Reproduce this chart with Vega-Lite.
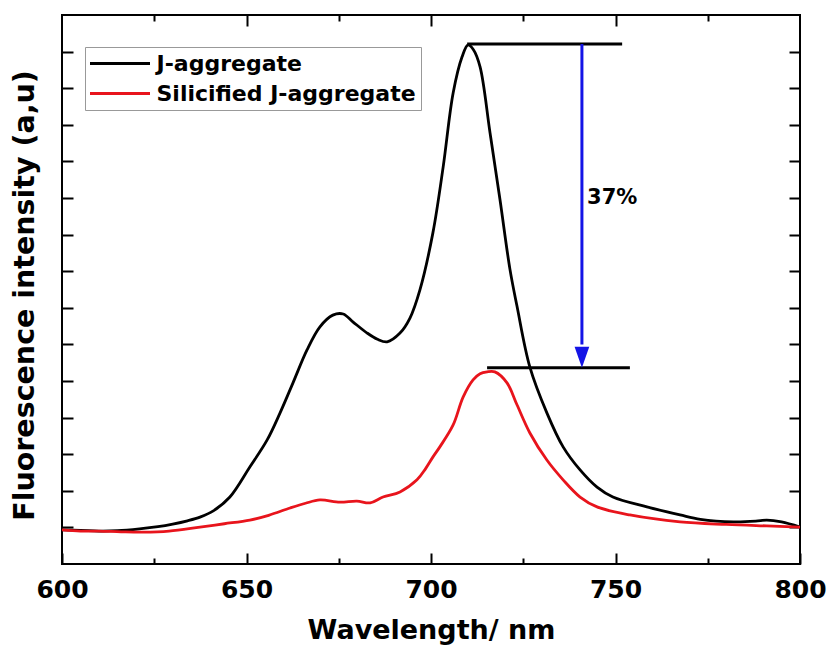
{
  "$schema": "https://vega.github.io/schema/vega-lite/v6.json",
  "width": 738,
  "height": 549,
  "autosize": {"type": "none"},
  "padding": {"left": 62, "top": 15, "right": 29, "bottom": 85},
  "background": "white",
  "config": {
    "font": "DejaVu Sans",
    "view": {"stroke": "black", "strokeWidth": 2},
    "axis": {
      "grid": false,
      "domain": false,
      "tickColor": "black",
      "tickWidth": 2,
      "labelFont": "DejaVu Sans",
      "labelFontWeight": "bold",
      "labelColor": "black",
      "titleFont": "DejaVu Sans",
      "titleFontWeight": "bold",
      "titleColor": "black"
    }
  },
  "datasets": {
    "curves": [
      {"wavelength": 600, "intensity": 0.93, "series": "J-aggregate"},
      {"wavelength": 605, "intensity": 0.92, "series": "J-aggregate"},
      {"wavelength": 610, "intensity": 0.90, "series": "J-aggregate"},
      {"wavelength": 615, "intensity": 0.91, "series": "J-aggregate"},
      {"wavelength": 621, "intensity": 0.96, "series": "J-aggregate"},
      {"wavelength": 626, "intensity": 1.02, "series": "J-aggregate"},
      {"wavelength": 630, "intensity": 1.09, "series": "J-aggregate"},
      {"wavelength": 634, "intensity": 1.18, "series": "J-aggregate"},
      {"wavelength": 637.4, "intensity": 1.28, "series": "J-aggregate"},
      {"wavelength": 641, "intensity": 1.45, "series": "J-aggregate"},
      {"wavelength": 645.5, "intensity": 1.83, "series": "J-aggregate"},
      {"wavelength": 650.9, "intensity": 2.65, "series": "J-aggregate"},
      {"wavelength": 655.6, "intensity": 3.39, "series": "J-aggregate"},
      {"wavelength": 659.1, "intensity": 4.13, "series": "J-aggregate"},
      {"wavelength": 662.6, "intensity": 4.95, "series": "J-aggregate"},
      {"wavelength": 666.4, "intensity": 5.85, "series": "J-aggregate"},
      {"wavelength": 669.9, "intensity": 6.48, "series": "J-aggregate"},
      {"wavelength": 673.4, "intensity": 6.80, "series": "J-aggregate"},
      {"wavelength": 676.2, "intensity": 6.83, "series": "J-aggregate"},
      {"wavelength": 678.9, "intensity": 6.61, "series": "J-aggregate"},
      {"wavelength": 682.7, "intensity": 6.31, "series": "J-aggregate"},
      {"wavelength": 685.5, "intensity": 6.14, "series": "J-aggregate"},
      {"wavelength": 688.1, "intensity": 6.07, "series": "J-aggregate"},
      {"wavelength": 691.6, "intensity": 6.31, "series": "J-aggregate"},
      {"wavelength": 694.3, "intensity": 6.72, "series": "J-aggregate"},
      {"wavelength": 697, "intensity": 7.49, "series": "J-aggregate"},
      {"wavelength": 700.5, "intensity": 9.04, "series": "J-aggregate"},
      {"wavelength": 703.3, "intensity": 10.85, "series": "J-aggregate"},
      {"wavelength": 706, "intensity": 12.87, "series": "J-aggregate"},
      {"wavelength": 708.4, "intensity": 13.85, "series": "J-aggregate"},
      {"wavelength": 710, "intensity": 14.18, "series": "J-aggregate"},
      {"wavelength": 711.5, "intensity": 14.05, "series": "J-aggregate"},
      {"wavelength": 713.3, "intensity": 13.58, "series": "J-aggregate"},
      {"wavelength": 716, "intensity": 11.78, "series": "J-aggregate"},
      {"wavelength": 718.7, "intensity": 9.95, "series": "J-aggregate"},
      {"wavelength": 721.4, "intensity": 8.05, "series": "J-aggregate"},
      {"wavelength": 723.3, "intensity": 7.05, "series": "J-aggregate"},
      {"wavelength": 726.8, "intensity": 5.38, "series": "J-aggregate"},
      {"wavelength": 731.4, "intensity": 4.13, "series": "J-aggregate"},
      {"wavelength": 735.8, "intensity": 3.20, "series": "J-aggregate"},
      {"wavelength": 740.4, "intensity": 2.57, "series": "J-aggregate"},
      {"wavelength": 745, "intensity": 2.10, "series": "J-aggregate"},
      {"wavelength": 749.3, "intensity": 1.83, "series": "J-aggregate"},
      {"wavelength": 758.5, "intensity": 1.56, "series": "J-aggregate"},
      {"wavelength": 767.5, "intensity": 1.34, "series": "J-aggregate"},
      {"wavelength": 773, "intensity": 1.22, "series": "J-aggregate"},
      {"wavelength": 782, "intensity": 1.15, "series": "J-aggregate"},
      {"wavelength": 788, "intensity": 1.17, "series": "J-aggregate"},
      {"wavelength": 791, "intensity": 1.20, "series": "J-aggregate"},
      {"wavelength": 795, "intensity": 1.15, "series": "J-aggregate"},
      {"wavelength": 800, "intensity": 1.01, "series": "J-aggregate"},
      {"wavelength": 600, "intensity": 0.93, "series": "Silicified J-aggregate"},
      {"wavelength": 605, "intensity": 0.90, "series": "Silicified J-aggregate"},
      {"wavelength": 610, "intensity": 0.90, "series": "Silicified J-aggregate"},
      {"wavelength": 616, "intensity": 0.88, "series": "Silicified J-aggregate"},
      {"wavelength": 622, "intensity": 0.87, "series": "Silicified J-aggregate"},
      {"wavelength": 629, "intensity": 0.90, "series": "Silicified J-aggregate"},
      {"wavelength": 637.4, "intensity": 1.01, "series": "Silicified J-aggregate"},
      {"wavelength": 644, "intensity": 1.10, "series": "Silicified J-aggregate"},
      {"wavelength": 650.9, "intensity": 1.20, "series": "Silicified J-aggregate"},
      {"wavelength": 656, "intensity": 1.33, "series": "Silicified J-aggregate"},
      {"wavelength": 661.8, "intensity": 1.53, "series": "Silicified J-aggregate"},
      {"wavelength": 666, "intensity": 1.66, "series": "Silicified J-aggregate"},
      {"wavelength": 669.9, "intensity": 1.75, "series": "Silicified J-aggregate"},
      {"wavelength": 675.3, "intensity": 1.69, "series": "Silicified J-aggregate"},
      {"wavelength": 679.9, "intensity": 1.72, "series": "Silicified J-aggregate"},
      {"wavelength": 683.5, "intensity": 1.67, "series": "Silicified J-aggregate"},
      {"wavelength": 687, "intensity": 1.83, "series": "Silicified J-aggregate"},
      {"wavelength": 691.6, "intensity": 1.97, "series": "Silicified J-aggregate"},
      {"wavelength": 696.2, "intensity": 2.30, "series": "Silicified J-aggregate"},
      {"wavelength": 698.5, "intensity": 2.6, "series": "Silicified J-aggregate"},
      {"wavelength": 700.5, "intensity": 2.92, "series": "Silicified J-aggregate"},
      {"wavelength": 702.4, "intensity": 3.20, "series": "Silicified J-aggregate"},
      {"wavelength": 706, "intensity": 3.80, "series": "Silicified J-aggregate"},
      {"wavelength": 708.7, "intensity": 4.56, "series": "Silicified J-aggregate"},
      {"wavelength": 711.4, "intensity": 5.03, "series": "Silicified J-aggregate"},
      {"wavelength": 713.3, "intensity": 5.20, "series": "Silicified J-aggregate"},
      {"wavelength": 715.2, "intensity": 5.25, "series": "Silicified J-aggregate"},
      {"wavelength": 717.3, "intensity": 5.25, "series": "Silicified J-aggregate"},
      {"wavelength": 720.6, "intensity": 4.95, "series": "Silicified J-aggregate"},
      {"wavelength": 723.3, "intensity": 4.35, "series": "Silicified J-aggregate"},
      {"wavelength": 726.8, "intensity": 3.58, "series": "Silicified J-aggregate"},
      {"wavelength": 731.4, "intensity": 2.84, "series": "Silicified J-aggregate"},
      {"wavelength": 735.8, "intensity": 2.30, "series": "Silicified J-aggregate"},
      {"wavelength": 740.4, "intensity": 1.83, "series": "Silicified J-aggregate"},
      {"wavelength": 745, "intensity": 1.56, "series": "Silicified J-aggregate"},
      {"wavelength": 753.9, "intensity": 1.34, "series": "Silicified J-aggregate"},
      {"wavelength": 767.5, "intensity": 1.15, "series": "Silicified J-aggregate"},
      {"wavelength": 780, "intensity": 1.08, "series": "Silicified J-aggregate"},
      {"wavelength": 791, "intensity": 1.04, "series": "Silicified J-aggregate"},
      {"wavelength": 800, "intensity": 1.01, "series": "Silicified J-aggregate"}
    ],
    "levels": [
      {"x": 709.8, "x2": 751.8, "y": 14.21},
      {"x": 715.2, "x2": 753.9, "y": 5.36}
    ],
    "drop": [
      {"x": 740.9, "y": 14.21, "y2": 6.0}
    ],
    "tip": [
      {"x": 740.9, "y": 5.36}
    ],
    "note": [
      {"x": 742.3, "y": 10.0, "label": "37%"}
    ]
  },
  "resolve": {"axis": {"x": "independent", "y": "independent"}},
  "layer": [
    {
      "data": {"name": "curves"},
      "mark": {"type": "line", "strokeWidth": 2.8, "interpolate": "catmull-rom"},
      "encoding": {
        "x": {
          "field": "wavelength", "type": "quantitative",
          "scale": {"domain": [600, 800], "nice": false, "zero": false},
          "axis": {
            "orient": "bottom", "values": [600, 650, 700, 750, 800],
            "tickSize": -11, "labelPadding": 44, "labelBaseline": "alphabetic",
            "labelFontSize": 25, "labelFlush": false, "labelOverlap": false, "labelBound": false,
            "title": "Wavelength/ nm", "titleFontSize": 27, "titleBaseline": "alphabetic",
            "titleY": 74
          }
        },
        "y": {
          "field": "intensity", "type": "quantitative",
          "scale": {"domain": [0, 15], "nice": false, "zero": false},
          "axis": {
            "orient": "left", "values": [1, 2, 3, 4, 5, 6, 7, 8, 9, 10, 11, 12, 13, 14],
            "tickSize": -11, "labels": false,
            "title": "Fluorescence intensity (a,u)", "titleFontSize": 28.5,
            "titleBaseline": "alphabetic", "titleAngle": 270, "titleAlign": "center",
            "titleX": -29, "titleY": 280
          }
        },
        "color": {
          "field": "series", "type": "nominal",
          "scale": {"domain": ["J-aggregate", "Silicified J-aggregate"], "range": ["black", "#e8141c"]},
          "legend": {
            "orient": "none", "legendX": 23, "legendY": 32, "title": null,
            "symbolType": "M-3,0L3,0", "symbolSize": 400, "symbolStrokeWidth": 3,
            "symbolOffset": 18.5, "labelOffset": 25,
            "labelFontSize": 22, "labelFont": "DejaVu Sans", "labelFontWeight": "bold", "labelColor": "black",
            "labelLimit": 400, "rowPadding": 7, "padding": 5,
            "strokeColor": "#999999", "fillColor": "white"
          }
        }
      }
    },
    {
      "data": {"name": "levels"},
      "mark": {"type": "rule", "strokeWidth": 3, "color": "black"},
      "encoding": {
        "x": {
          "field": "x", "type": "quantitative",
          "scale": {"domain": [600, 800], "nice": false, "zero": false},
          "axis": {"orient": "top", "values": [650, 700, 750], "tickSize": -11, "labels": false, "title": null}
        },
        "x2": {"field": "x2"},
        "y": {
          "field": "y", "type": "quantitative",
          "scale": {"domain": [0, 15], "nice": false, "zero": false},
          "axis": {"orient": "right", "values": [1, 2, 3, 4, 5, 6, 7, 8, 9, 10, 11, 12, 13, 14], "tickSize": -11, "labels": false, "title": null}
        }
      }
    },
    {
      "data": {"name": "drop"},
      "mark": {"type": "rule", "strokeWidth": 3, "color": "#1414e6"},
      "encoding": {
        "x": {
          "field": "x", "type": "quantitative",
          "scale": {"domain": [600, 800], "nice": false, "zero": false},
          "axis": {"orient": "bottom", "values": [625, 675, 725, 775], "tickSize": -6, "labels": false, "title": null}
        },
        "y": {
          "field": "y", "type": "quantitative",
          "scale": {"domain": [0, 15], "nice": false, "zero": false},
          "axis": null
        },
        "y2": {"field": "y2"}
      }
    },
    {
      "data": {"name": "tip"},
      "mark": {"type": "point", "shape": "M-0.7,-2L0.7,-2L0,0Z", "size": 441, "filled": true, "color": "#1414e6", "opacity": 1},
      "encoding": {
        "x": {
          "field": "x", "type": "quantitative",
          "scale": {"domain": [600, 800], "nice": false, "zero": false},
          "axis": {"orient": "top", "values": [625, 675, 725, 775], "tickSize": -6, "labels": false, "title": null}
        },
        "y": {
          "field": "y", "type": "quantitative",
          "scale": {"domain": [0, 15], "nice": false, "zero": false},
          "axis": null
        }
      }
    },
    {
      "data": {"name": "note"},
      "mark": {"type": "text", "align": "left", "baseline": "middle", "fontSize": 21, "fontWeight": "bold", "font": "DejaVu Sans", "color": "black"},
      "encoding": {
        "x": {
          "field": "x", "type": "quantitative",
          "scale": {"domain": [600, 800], "nice": false, "zero": false},
          "axis": null
        },
        "y": {
          "field": "y", "type": "quantitative",
          "scale": {"domain": [0, 15], "nice": false, "zero": false},
          "axis": null
        },
        "text": {"field": "label"}
      }
    }
  ]
}
